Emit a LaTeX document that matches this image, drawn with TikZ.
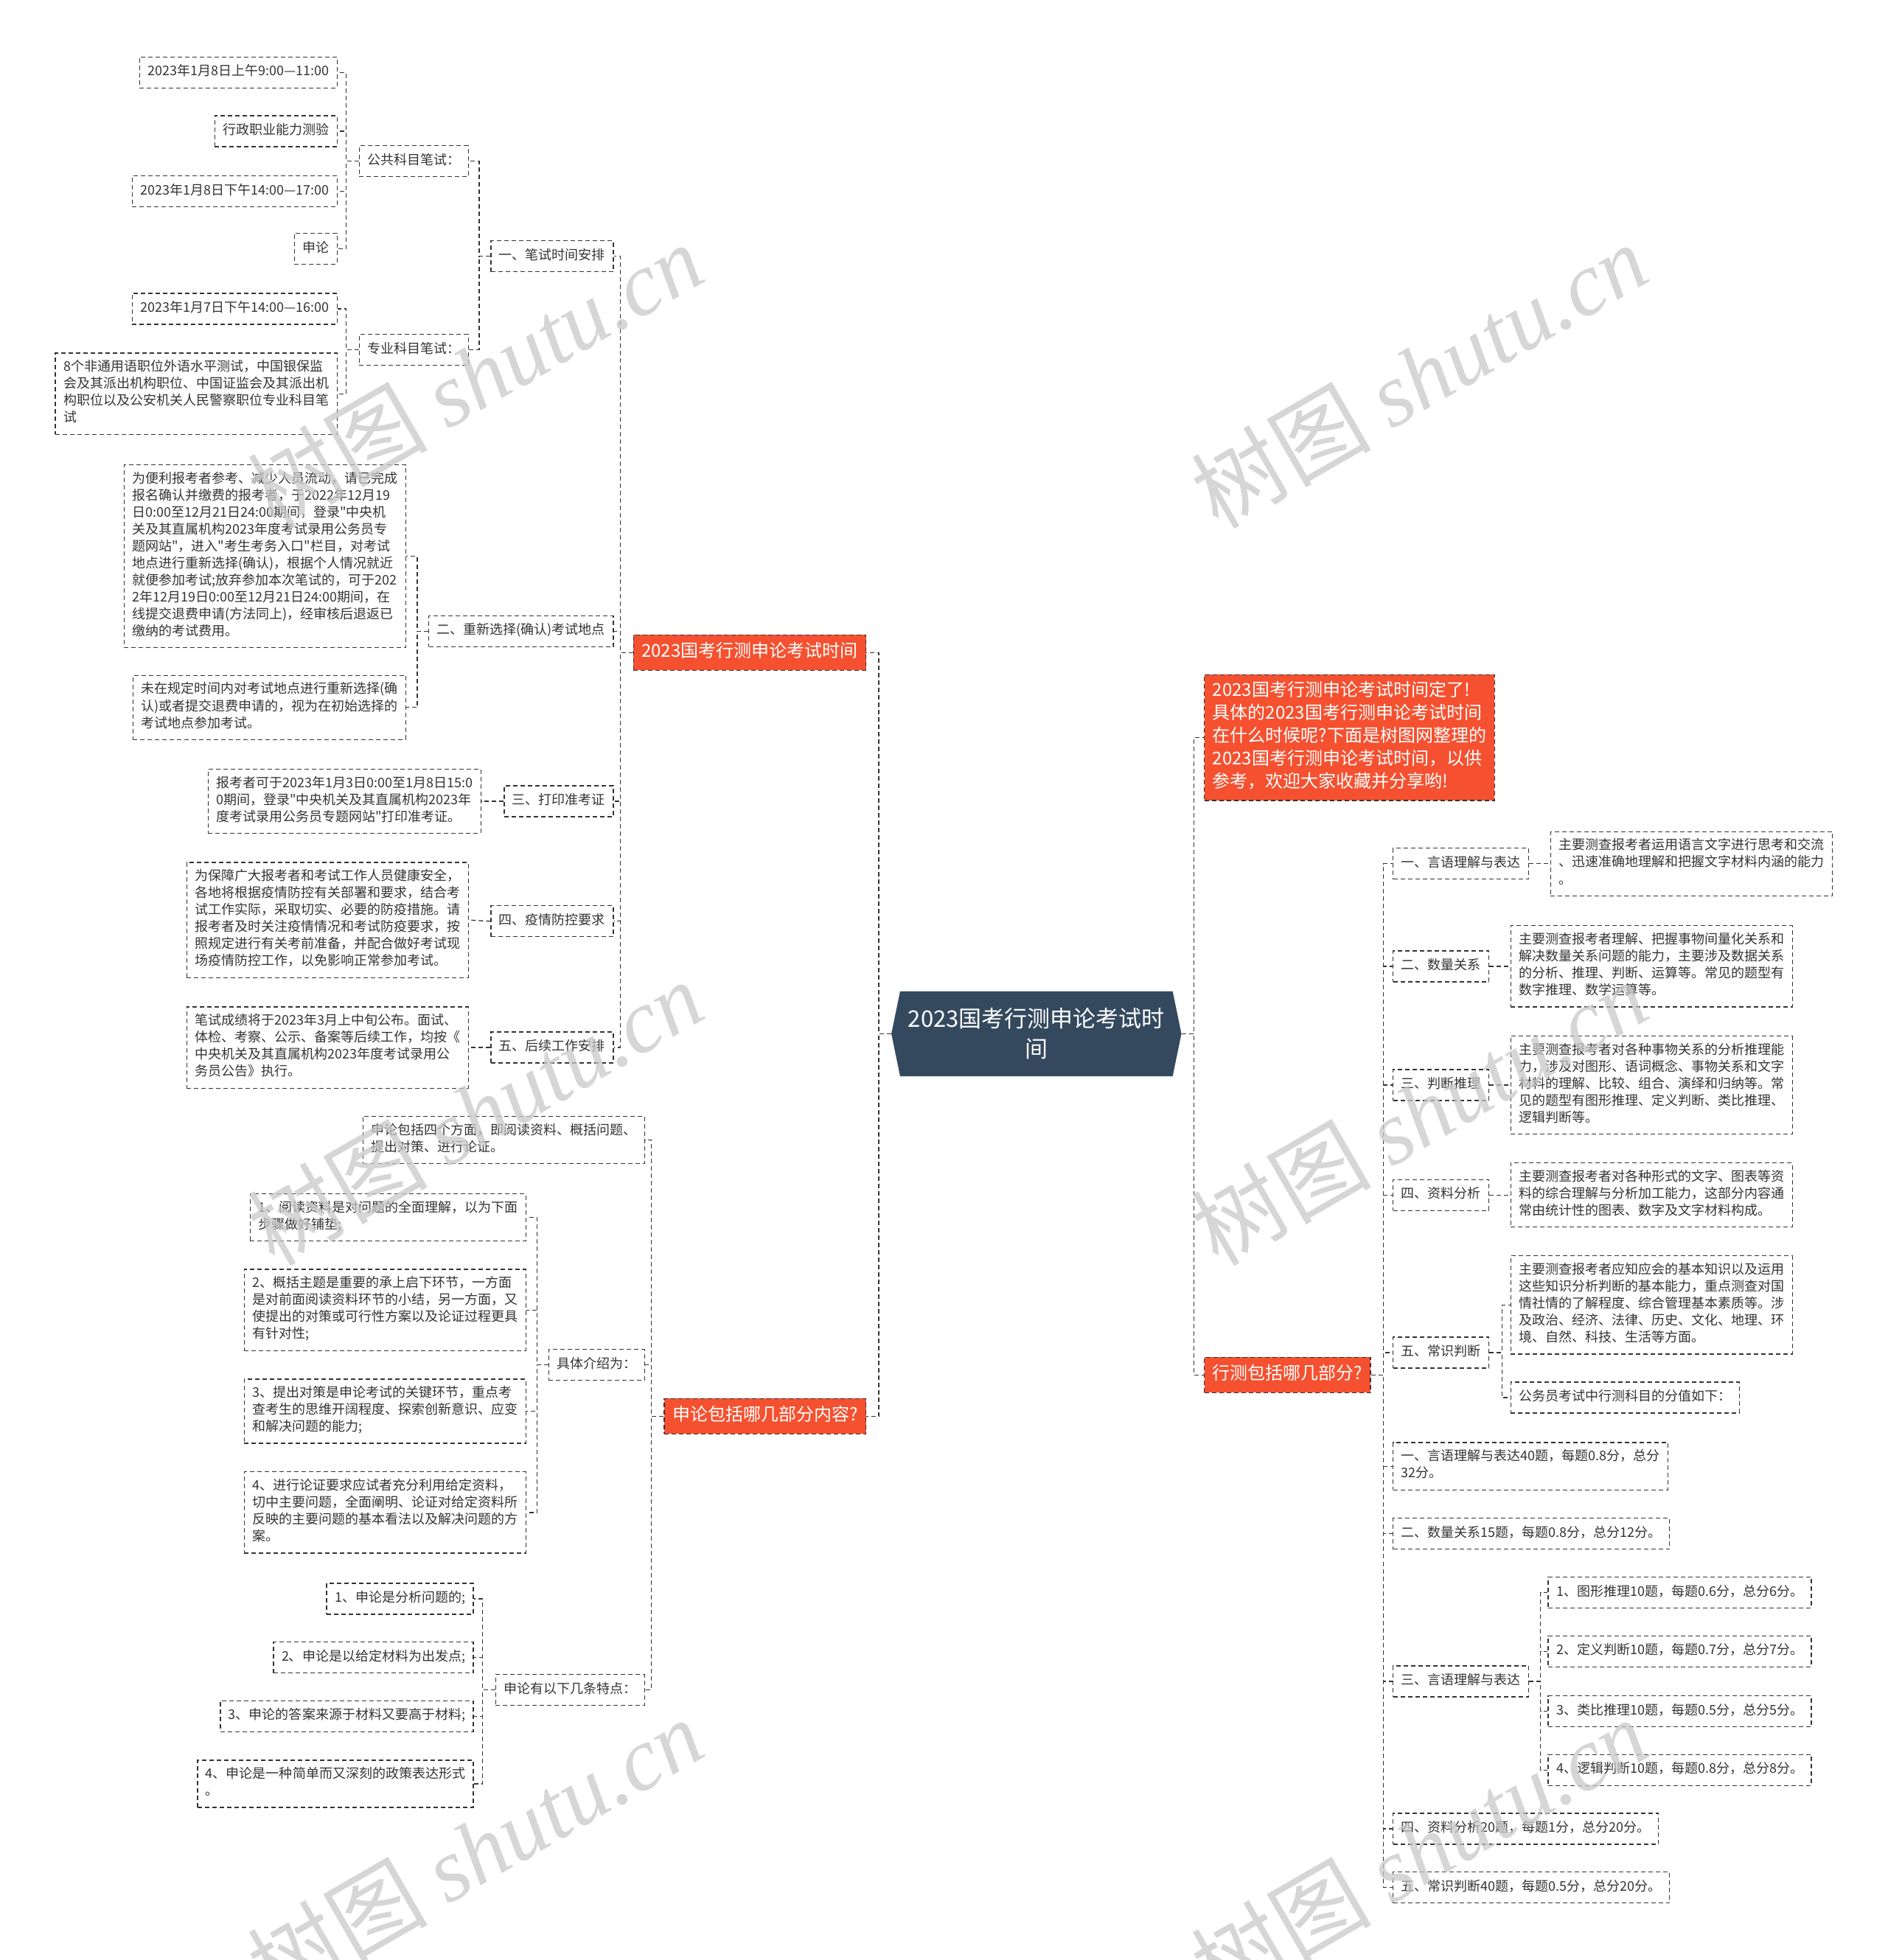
\documentclass[tikz,border=0pt]{standalone}
\usepackage{fontspec}
\setmainfont{Noto Sans CJK SC}
\newfontfamily\plainfont{Noto Sans CJK SC}
\newfontfamily\wmfont{Liberation Serif}
\newcommand\dq{{\plainfont"}}
\definecolor{linegray}{HTML}{333333}
\definecolor{textgray}{HTML}{333333}
\definecolor{topicred}{HTML}{F55130}
\definecolor{rootblue}{HTML}{34495E}
\definecolor{wmgray}{RGB}{200,200,200}
\begin{document}
\begin{tikzpicture}[x=1.6954pt,y=-1.6954pt,
  link/.style={draw=linegray,line width=1.3pt,dash pattern=on 6pt off 4pt},
  leaf/.style={draw=linegray,line width=1.3pt,dash pattern=on 6pt off 4pt,text=textgray,
    font=\fontsize{18}{23}\selectfont,align=left,inner xsep=11pt,inner ysep=9.5pt,
    execute at begin node=\strut,execute at end node=\strut},
  topic/.style={leaf,fill=topicred,text=white,font=\fontsize{24}{31}\selectfont,inner ysep=8.5pt},
  rootnode/.style={text=white,font=\fontsize{31}{41}\selectfont,align=center,
    minimum width=393pt,minimum height=115pt,inner sep=0pt},
  wm/.style={text=wmgray,text opacity=0.75,font=\fontsize{122}{130}\selectfont,rotate=30,inner sep=0pt}]
  \useasboundingbox (0,0) rectangle (1510,1568);

  \fill[rootblue] (720,793) -- (938,793) -- (945,827) -- (938,861) -- (720,861) -- (713,827) -- cycle;

  \path
  (829,827)  node[rootnode](root) {2023国考行测申论考试时\\间}

  (693,522)  node[topic,anchor=east](b1) {2023国考行测申论考试时间}
  (693,1133) node[topic,anchor=east](b2) {申论包括哪几部分内容?}
  (963,590)  node[topic,anchor=west](intro) {2023国考行测申论考试时间定了!\\具体的2023国考行测申论考试时间\\在什么时候呢?下面是树图网整理的\\2023国考行测申论考试时间，以供\\参考，欢迎大家收藏并分享哟!}
  (963,1100) node[topic,anchor=west](b4) {行测包括哪几部分?}

  (491,205)  node[leaf,anchor=east](n1) {一、笔试时间安排}
  (491,505)  node[leaf,anchor=east](n2) {二、重新选择(确认)考试地点}
  (491,641)  node[leaf,anchor=east](n3) {三、打印准考证}
  (491,737)  node[leaf,anchor=east](n4) {四、疫情防控要求}
  (491,838)  node[leaf,anchor=east](n5) {五、后续工作安排}

  (375,129)  node[leaf,anchor=east](pub) {公共科目笔试：}
  (375,280)  node[leaf,anchor=east](pro) {专业科目笔试：}
  (270,58)   node[leaf,anchor=east](t1) {2023年1月8日上午9:00—11:00}
  (270,105)  node[leaf,anchor=east](t2) {行政职业能力测验}
  (270,153)  node[leaf,anchor=east](t3) {2023年1月8日下午14:00—17:00}
  (270,199)  node[leaf,anchor=east](t4) {申论}
  (270,247)  node[leaf,anchor=east](t5) {2023年1月7日下午14:00—16:00}
  (270,315)  node[leaf,anchor=east](t6) {8个非通用语职位外语水平测试，中国银保监\\会及其派出机构职位、中国证监会及其派出机\\构职位以及公安机关人民警察职位专业科目笔\\试}

  (325,445)  node[leaf,anchor=east](n2a) {为便利报考者参考、减少人员流动，请已完成\\报名确认并缴费的报考者，于2022年12月19\\日0:00至12月21日24:00期间，登录\dq 中央机\\关及其直属机构2023年度考试录用公务员专\\题网站\dq ，进入\dq 考生考务入口\dq 栏目，对考试\\地点进行重新选择(确认)，根据个人情况就近\\就便参加考试;放弃参加本次笔试的，可于202\\2年12月19日0:00至12月21日24:00期间，在\\线提交退费申请(方法同上)，经审核后退返已\\缴纳的考试费用。}
  (325,566)  node[leaf,anchor=east](n2b) {未在规定时间内对考试地点进行重新选择(确\\认)或者提交退费申请的，视为在初始选择的\\考试地点参加考试。}
  (385,641)  node[leaf,anchor=east](n3a) {报考者可于2023年1月3日0:00至1月8日15:0\\0期间，登录\dq 中央机关及其直属机构2023年\\度考试录用公务员专题网站\dq 打印准考证。}
  (375,736)  node[leaf,anchor=east](n4a) {为保障广大报考者和考试工作人员健康安全，\\各地将根据疫情防控有关部署和要求，结合考\\试工作实际，采取切实、必要的防疫措施。请\\报考者及时关注疫情情况和考试防疫要求，按\\照规定进行有关考前准备，并配合做好考试现\\场疫情防控工作，以免影响正常参加考试。}
  (375,838)  node[leaf,anchor=east](n5a) {笔试成绩将于2023年3月上中旬公布。面试、\\体检、考察、公示、备案等后续工作，均按《\\中央机关及其直属机构2023年度考试录用公\\务员公告》执行。}

  (516,912)  node[leaf,anchor=east](s1) {申论包括四个方面，即阅读资料、概括问题、\\提出对策、进行论证。}
  (516,1092) node[leaf,anchor=east](s2) {具体介绍为：}
  (516,1352) node[leaf,anchor=east](s3) {申论有以下几条特点：}
  (421,974)  node[leaf,anchor=east](d1) {1、阅读资料是对问题的全面理解，以为下面\\步骤做好铺垫;}
  (421,1048) node[leaf,anchor=east](d2) {2、概括主题是重要的承上启下环节，一方面\\是对前面阅读资料环节的小结，另一方面，又\\使提出的对策或可行性方案以及论证过程更具\\有针对性;}
  (421,1129) node[leaf,anchor=east](d3) {3、提出对策是申论考试的关键环节，重点考\\查考生的思维开阔程度、探索创新意识、应变\\和解决问题的能力;}
  (421,1210) node[leaf,anchor=east](d4) {4、进行论证要求应试者充分利用给定资料，\\切中主要问题，全面阐明、论证对给定资料所\\反映的主要问题的基本看法以及解决问题的方\\案。}
  (379,1279) node[leaf,anchor=east](f1) {1、申论是分析问题的;}
  (379,1326) node[leaf,anchor=east](f2) {2、申论是以给定材料为出发点;}
  (379,1373) node[leaf,anchor=east](f3) {3、申论的答案来源于材料又要高于材料;}
  (379,1427) node[leaf,anchor=east](f4) {4、申论是一种简单而又深刻的政策表达形式\\。}

  (1114,691)  node[leaf,anchor=west](k1) {一、言语理解与表达}
  (1114,773)  node[leaf,anchor=west](k2) {二、数量关系}
  (1114,868)  node[leaf,anchor=west](k3) {三、判断推理}
  (1114,956)  node[leaf,anchor=west](k4) {四、资料分析}
  (1114,1082) node[leaf,anchor=west](k5) {五、常识判断}
  (1114,1173) node[leaf,anchor=west](k6) {一、言语理解与表达40题，每题0.8分，总分\\32分。}
  (1114,1227) node[leaf,anchor=west](k7) {二、数量关系15题，每题0.8分，总分12分。}
  (1114,1345) node[leaf,anchor=west](k8) {三、言语理解与表达}
  (1114,1463) node[leaf,anchor=west](k9) {四、资料分析20题，每题1分，总分20分。}
  (1114,1510) node[leaf,anchor=west](k10) {五、常识判断40题，每题0.5分，总分20分。}

  (1240,691)  node[leaf,anchor=west](e1) {主要测查报考者运用语言文字进行思考和交流\\、迅速准确地理解和把握文字材料内涵的能力\\。}
  (1208,773)  node[leaf,anchor=west](e2) {主要测查报考者理解、把握事物间量化关系和\\解决数量关系问题的能力，主要涉及数据关系\\的分析、推理、判断、运算等。常见的题型有\\数字推理、数学运算等。}
  (1208,868)  node[leaf,anchor=west](e3) {主要测查报考者对各种事物关系的分析推理能\\力，涉及对图形、语词概念、事物关系和文字\\材料的理解、比较、组合、演绎和归纳等。常\\见的题型有图形推理、定义判断、类比推理、\\逻辑判断等。}
  (1208,956)  node[leaf,anchor=west](e4) {主要测查报考者对各种形式的文字、图表等资\\料的综合理解与分析加工能力，这部分内容通\\常由统计性的图表、数字及文字材料构成。}
  (1208,1044) node[leaf,anchor=west](e5) {主要测查报考者应知应会的基本知识以及运用\\这些知识分析判断的基本能力，重点测查对国\\情社情的了解程度、综合管理基本素质等。涉\\及政治、经济、法律、历史、文化、地理、环\\境、自然、科技、生活等方面。}
  (1208,1118) node[leaf,anchor=west](e6) {公务员考试中行测科目的分值如下：}
  (1238,1274) node[leaf,anchor=west](g1) {1、图形推理10题，每题0.6分，总分6分。}
  (1238,1321) node[leaf,anchor=west](g2) {2、定义判断10题，每题0.7分，总分7分。}
  (1238,1369) node[leaf,anchor=west](g3) {3、类比推理10题，每题0.5分，总分5分。}
  (1238,1416) node[leaf,anchor=west](g4) {4、逻辑判断10题，每题0.8分，总分8分。}
  ;

  \draw[link] (root.west) -- ++(-10,0) |- (b1.east);
  \draw[link] (root.west) -- ++(-10,0) |- (b2.east);
  \draw[link] (root.east) -- ++(10,0) |- (intro.west);
  \draw[link] (root.east) -- ++(10,0) |- (b4.west);

  \draw[link] (b1.west) -- ++(-10,0) |- (n1.east);
  \draw[link] (b1.west) -- ++(-10,0) |- (n2.east);
  \draw[link] (b1.west) -- ++(-10,0) |- (n3.east);
  \draw[link] (b1.west) -- ++(-10,0) |- (n4.east);
  \draw[link] (b1.west) -- ++(-10,0) |- (n5.east);

  \draw[link] (n1.west) -- ++(-9,0) |- (pub.east);
  \draw[link] (n1.west) -- ++(-9,0) |- (pro.east);
  \draw[link] (pub.west) -- ++(-10,0) |- (t1.east);
  \draw[link] (pub.west) -- ++(-10,0) |- (t2.east);
  \draw[link] (pub.west) -- ++(-10,0) |- (t3.east);
  \draw[link] (pub.west) -- ++(-10,0) |- (t4.east);
  \draw[link] (pro.west) -- ++(-10,0) |- (t5.east);
  \draw[link] (pro.west) -- ++(-10,0) |- (t6.east);

  \draw[link] (n2.west) -- ++(-9,0) |- (n2a.east);
  \draw[link] (n2.west) -- ++(-9,0) |- (n2b.east);
  \draw[link] (n3.west) -- (n3a.east);
  \draw[link] (n4.west) -- (n4a.east);
  \draw[link] (n5.west) -- (n5a.east);

  \draw[link] (b2.west) -- ++(-10,0) |- (s1.east);
  \draw[link] (b2.west) -- ++(-10,0) |- (s2.east);
  \draw[link] (b2.west) -- ++(-10,0) |- (s3.east);
  \draw[link] (s2.west) -- ++(-9,0) |- (d1.east);
  \draw[link] (s2.west) -- ++(-9,0) |- (d2.east);
  \draw[link] (s2.west) -- ++(-9,0) |- (d3.east);
  \draw[link] (s2.west) -- ++(-9,0) |- (d4.east);
  \draw[link] (s3.west) -- ++(-10,0) |- (f1.east);
  \draw[link] (s3.west) -- ++(-10,0) |- (f2.east);
  \draw[link] (s3.west) -- ++(-10,0) |- (f3.east);
  \draw[link] (s3.west) -- ++(-10,0) |- (f4.east);

  \draw[link] (b4.east) -- ++(10,0) |- (k1.west);
  \draw[link] (b4.east) -- ++(10,0) |- (k2.west);
  \draw[link] (b4.east) -- ++(10,0) |- (k3.west);
  \draw[link] (b4.east) -- ++(10,0) |- (k4.west);
  \draw[link] (b4.east) -- ++(10,0) |- (k5.west);
  \draw[link] (b4.east) -- ++(10,0) |- (k6.west);
  \draw[link] (b4.east) -- ++(10,0) |- (k7.west);
  \draw[link] (b4.east) -- ++(10,0) |- (k8.west);
  \draw[link] (b4.east) -- ++(10,0) |- (k9.west);
  \draw[link] (b4.east) -- ++(10,0) |- (k10.west);

  \draw[link] (k1.east) -- (e1.west);
  \draw[link] (k2.east) -- (e2.west);
  \draw[link] (k3.east) -- (e3.west);
  \draw[link] (k4.east) -- (e4.west);
  \draw[link] (k5.east) -- ++(10,0) |- (e5.west);
  \draw[link] (k5.east) -- ++(10,0) |- (e6.west);
  \draw[link] (k8.east) -- ++(9,0) |- (g1.west);
  \draw[link] (k8.east) -- ++(9,0) |- (g2.west);
  \draw[link] (k8.east) -- ++(9,0) |- (g3.west);
  \draw[link] (k8.east) -- ++(9,0) |- (g4.west);

  \path
  (380,300)  node[wm](wm1) {树图 {\wmfont\itshape shutu.cn}}
  (1135,300) node[wm](wm2) {树图 {\wmfont\itshape shutu.cn}}
  (380,890)  node[wm](wm3) {树图 {\wmfont\itshape shutu.cn}}
  (1135,890) node[wm](wm4) {树图 {\wmfont\itshape shutu.cn}}
  (380,1480) node[wm](wm5) {树图 {\wmfont\itshape shutu.cn}}
  (1135,1480) node[wm](wm6) {树图 {\wmfont\itshape shutu.cn}}
  ;
\end{tikzpicture}
\end{document}
